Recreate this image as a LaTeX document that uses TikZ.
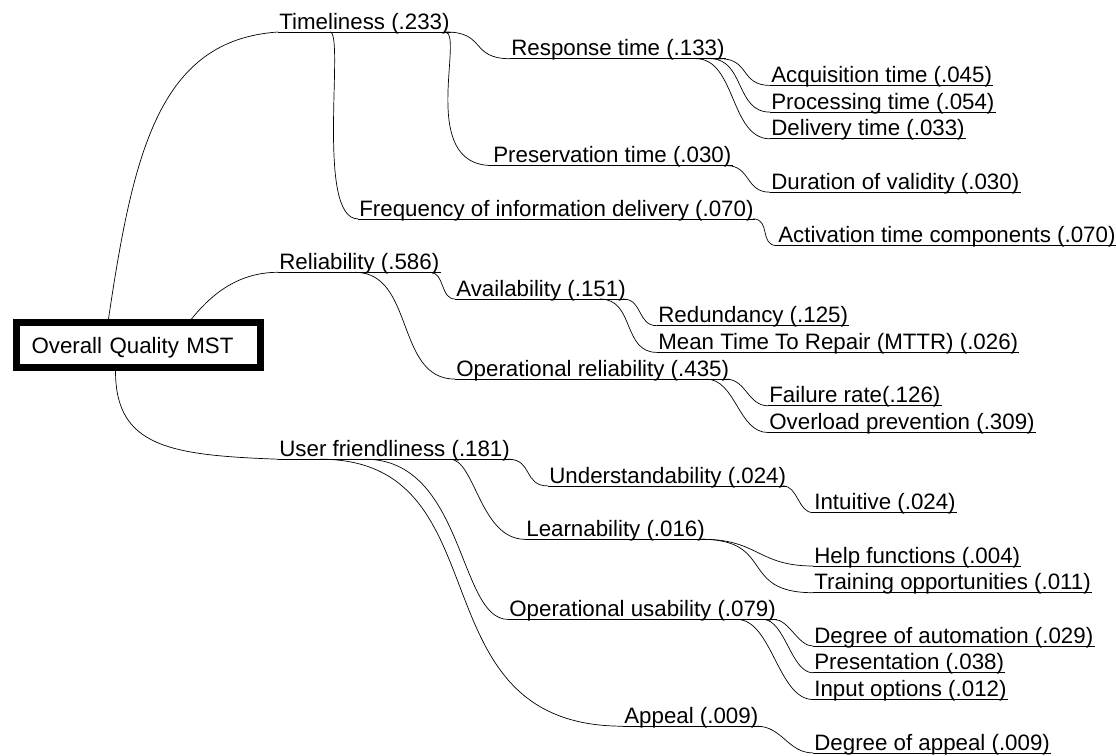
\documentclass[tikz,border=0pt]{standalone}
\usepackage{fontspec}
\setmainfont{Liberation Sans}
\newcommand{\twig}[5]{\draw ([xshift=#3pt]#1.south west) .. controls +(#4,0) and +(-#5,0) .. (#2.south west);}

\begin{document}
\begin{tikzpicture}[x=1pt,y=-1pt,line width=0.7pt,
    every node/.style={font=\fontsize{22.3}{26}\selectfont},
    lbl/.style={anchor=south west,inner xsep=1pt,inner ysep=0pt,text depth=2.5pt}]
  \useasboundingbox (0,0) rectangle (1116,755);
  \node[draw,line width=7pt,anchor=north west,minimum width=244pt,minimum height=45pt,
        inner xsep=15pt,text width=214pt,align=left,text height=17pt,text depth=0pt] (root) at (13,319) {Overall Quality MST};
  \node[lbl] (tl) at (278,32) {Timeliness (.233)};
  \node[lbl] (rt) at (510,58.7) {Response time (.133)};
  \node[lbl] (aq) at (770,85.4) {Acquisition time (.045)};
  \node[lbl] (pc) at (770,112.1) {Processing time (.054)};
  \node[lbl] (dl) at (770,138.8) {Delivery time (.033)};
  \node[lbl] (pv) at (492,165.5) {Preservation time (.030)};
  \node[lbl] (dv) at (770,192.2) {Duration of validity (.030)};
  \node[lbl] (fq) at (358,218.9) {Frequency of information delivery (.070)};
  \node[lbl] (ac) at (777,245.6) {Activation time components (.070)};
  \node[lbl] (rl) at (278,272.3) {Reliability (.586)};
  \node[lbl] (av) at (455,299) {Availability (.151)};
  \node[lbl] (rd) at (657,325.7) {Redundancy (.125)};
  \node[lbl] (mt) at (657,352.4) {Mean Time To Repair (MTTR) (.026)};
  \node[lbl] (orl) at (455,379.1) {Operational reliability (.435)};
  \node[lbl] (fr) at (768,405.8) {Failure rate(.126)};
  \node[lbl] (ov) at (768,432.5) {Overload prevention (.309)};
  \node[lbl] (uf) at (278,459.2) {User friendliness (.181)};
  \node[lbl] (un) at (548,485.9) {Understandability (.024)};
  \node[lbl] (it) at (813,512.6) {Intuitive (.024)};
  \node[lbl] (le) at (525,539.3) {Learnability (.016)};
  \node[lbl] (hf) at (813,566) {Help functions (.004)};
  \node[lbl] (tr) at (813,592.7) {Training opportunities (.011)};
  \node[lbl] (ou) at (508,619.4) {Operational usability (.079)};
  \node[lbl] (da) at (813,646.1) {Degree of automation (.029)};
  \node[lbl] (pn) at (813,672.8) {Presentation (.038)};
  \node[lbl] (io) at (813,699.5) {Input options (.012)};
  \node[lbl] (ap) at (623,726.2) {Appeal (.009)};
  \node[lbl] (dg) at (813,752.9) {Degree of appeal (.009)};
  \foreach \n in {tl,rt,aq,pc,dl,pv,dv,fq,ac,rl,av,rd,mt,orl,fr,ov,uf,un,it,le,hf,tr,ou,da,pn,io,ap,dg}
    \draw (\n.south west) -- (\n.south east);
  \draw ([xshift=-30pt]root.north) .. controls +(25,-169) and +(-118,8) .. (tl.south west);
  \draw ([xshift=53pt]root.north) .. controls +(17,-21) and +(-43,0) .. (rl.south west);
  \draw ([xshift=-23pt]root.south) .. controls +(0,76) and +(-108,-4) .. (uf.south west);
  \twig{tl}{rt}{168}{40}{40}
  \twig{tl}{pv}{167}{20}{75}
  \twig{tl}{fq}{52}{15}{43}
  \twig{rt}{aq}{210}{30}{30}
  \twig{rt}{pc}{200}{35}{35}
  \twig{rt}{dl}{186}{40}{40}
  \twig{pv}{dv}{234}{25}{25}
  \twig{fq}{ac}{395}{18}{18}
  \twig{rl}{av}{152}{15}{15}
  \twig{rl}{orl}{77}{60}{60}
  \twig{av}{rd}{168}{20}{20}
  \twig{av}{mt}{145}{35}{35}
  \twig{orl}{fr}{271}{20}{20}
  \twig{orl}{ov}{251}{30}{30}
  \twig{uf}{un}{230}{25}{25}
  \twig{uf}{le}{172}{25}{45}
  \twig{uf}{ou}{87}{100}{50}
  \twig{uf}{ap}{42}{188}{213}
  \twig{un}{it}{235}{15}{15}
  \twig{le}{hf}{178}{55}{55}
  \twig{le}{tr}{176}{75}{75}
  \twig{ou}{da}{266}{15}{15}
  \twig{ou}{pn}{255}{22}{22}
  \twig{ou}{io}{229}{35}{35}
  \twig{ap}{dg}{134}{25}{25}
\end{tikzpicture}
\end{document}
